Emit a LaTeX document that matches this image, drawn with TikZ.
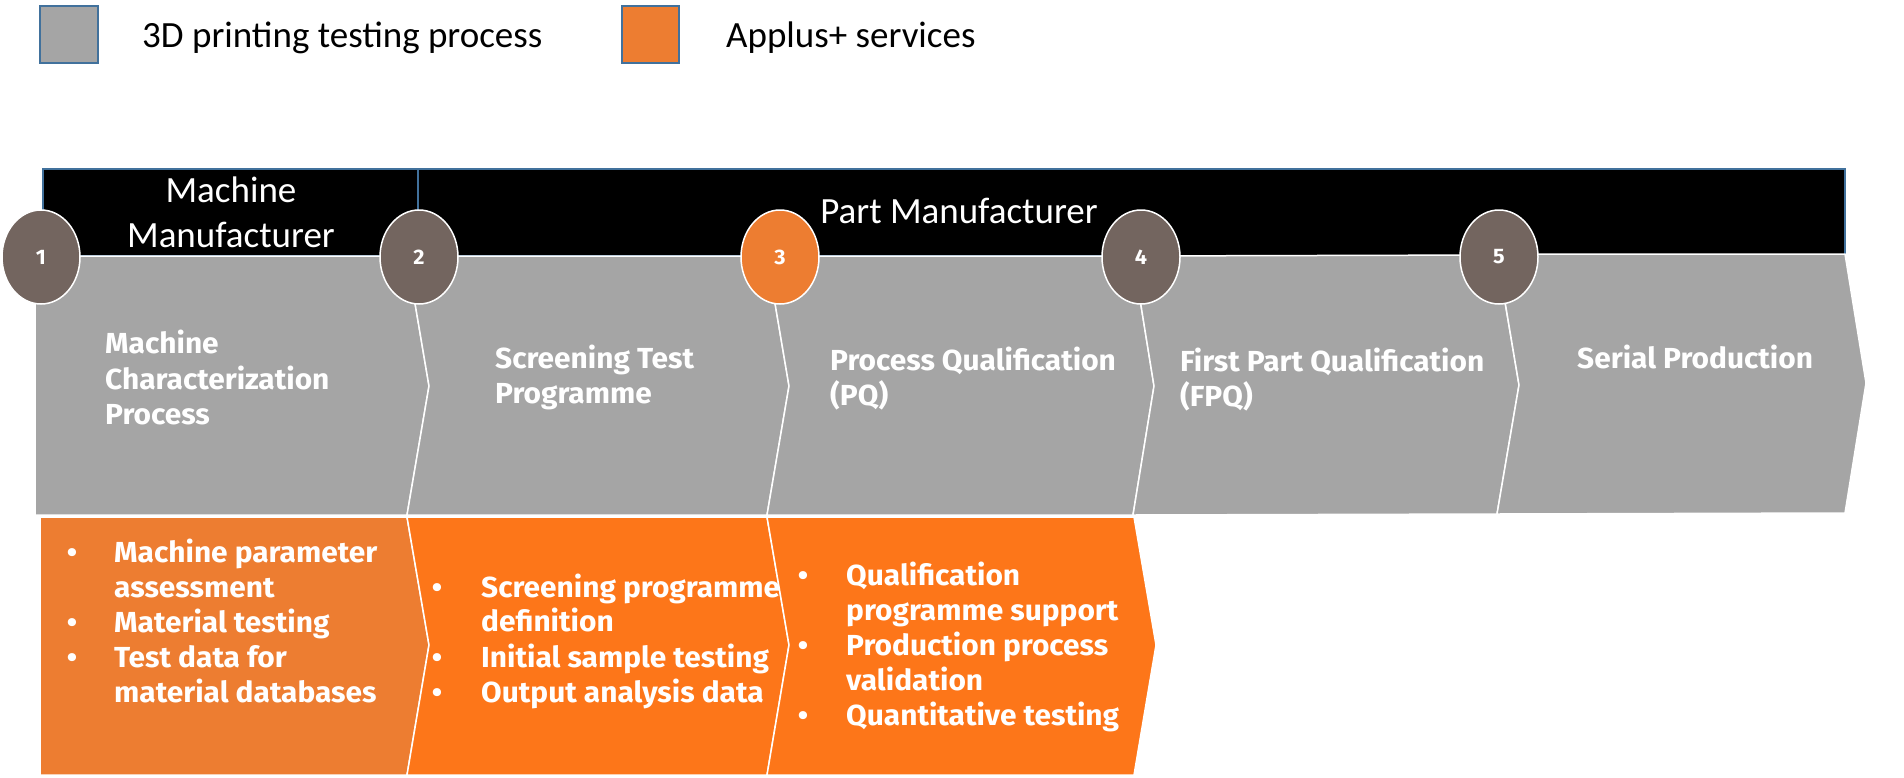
\documentclass[tikz,border=0pt]{standalone}
\usepackage{fontspec}
\setmainfont{Carlito}
\newfontfamily\techfont{Fira Sans}[FakeStretch=1.03]
\usetikzlibrary{shapes.geometric}
\definecolor{grayfill}{HTML}{A5A5A5}
\definecolor{orangeA}{HTML}{ED7D31}
\definecolor{orangeB}{HTML}{FD7619}
\definecolor{circfill}{HTML}{73655F}
\definecolor{bordblue}{HTML}{41719C}
\begin{document}
\begin{tikzpicture}[x=1pt,y=-1pt,
  legbox/.style={fill=#1,draw=bordblue,line width=1.5pt},
  legtxt/.style={font=\fontsize{37}{44}\selectfont,anchor=base west,inner sep=0pt,text=black},
  hdrbox/.style={fill=black,draw=bordblue,line width=1.5pt},
  hdrtxt/.style={font=\fontsize{37}{44}\selectfont,anchor=base,inner sep=0pt,text=white},
  graychev/.style={fill=grayfill,draw=white,line width=1.5pt,line join=miter},
  orchev/.style={fill=#1,draw=white,line width=1.5pt,line join=miter},
  ttl/.style={font=\techfont\bfseries\fontsize{29}{34}\selectfont,anchor=base west,inner sep=0pt,text=white},
  bul/.style={font=\techfont\bfseries\fontsize{29}{34}\selectfont,anchor=base,inner sep=0pt,text=white},
  stepnum/.style={ellipse,fill=#1,draw=white,line width=1.5pt,minimum width=78pt,minimum height=94pt,inner sep=0pt,text=white,font=\techfont\bfseries\fontsize{21}{24}\selectfont}
]
\path[use as bounding box] (0,0) rectangle (1904,777);

% legend
\path[legbox=grayfill] (40,6) rectangle (98,63);
\node[legtxt] (leg1) at (142,47) {3D printing testing process};
\path[legbox=orangeA] (622,6) rectangle (679,63);
\node[legtxt] (leg2) at (726,47) {Applus+ services};

% header boxes
\path[hdrbox] (43,169) rectangle (418,256);
\path[hdrbox] (418,169) rectangle (1845,256);
\node[hdrtxt] (mm1) at (231,202) {Machine};
\node[hdrtxt] (mm2) at (231,247) {Manufacturer};
\node[hdrtxt] (pm) at (959,223) {Part Manufacturer};

% gray chevrons
\path[graychev] (35,256) -- (407,256) -- (429,386) -- (407,515) -- (35,515) -- cycle;
\path[graychev] (407,256) -- (767,256) -- (789,386) -- (767,515) -- (407,515) -- (429,386) -- cycle;
\path[graychev] (767,256) -- (1133,256) -- (1154,386) -- (1133,515) -- (767,515) -- (789,386) -- cycle;
\path[graychev] (1133,256) -- (1497,255) -- (1519,385) -- (1497,514) -- (1133,515) -- (1154,386) -- cycle;
\path[graychev] (1497,254) -- (1845,254) -- (1866,383) -- (1845,513) -- (1497,514) -- (1519,385) -- cycle;

% orange chevrons
\path[orchev=orangeA] (40,517) -- (407,517) -- (429,645) -- (407,775) -- (40,775) -- cycle;
\path[orchev=orangeB] (407,517) -- (767,517) -- (789,645) -- (767,775) -- (407,775) -- (429,645) -- cycle;
\path[orchev=orangeB] (767,517) -- (1134,517) -- (1156,645) -- (1134,775) -- (767,775) -- (789,645) -- cycle;

% step circles
\node[stepnum=circfill] (s1) at (41,257) {1};
\node[stepnum=circfill] (s2) at (419,257) {2};
\node[stepnum=orangeA] (s3) at (780,257) {3};
\node[stepnum=circfill] (s4) at (1141,257) {4};
\node[stepnum=circfill] (s5) at (1499,257) {5};

% gray titles
\node[ttl] (t1a) at (105,353) {Machine};
\node[ttl] (t1b) at (105,389) {Characterization};
\node[ttl] (t1c) at (105,424) {Process};
\node[ttl] (t2a) at (495,368) {Screening Test};
\node[ttl] (t2b) at (495,403) {Programme};
\node[ttl] (t3a) at (830,370) {Process Qualification};
\node[ttl] (t3b) at (830,405) {(PQ)};
\node[ttl] (t4a) at (1180,371) {First Part Qualification};
\node[ttl] (t4b) at (1180,406) {(FPQ)};
\node[ttl] (t5a) at (1577,368) {Serial Production};

% orange 1 bullets
\node[bul] (b1a) at (72,562) {•};
\node[bul] (b1b) at (72,632) {•};
\node[bul] (b1c) at (72,667) {•};
\node[ttl] (o1a) at (114,562) {Machine parameter};
\node[ttl] (o1b) at (114,597) {assessment};
\node[ttl] (o1c) at (114,632) {Material testing};
\node[ttl] (o1d) at (114,667) {Test data for};
\node[ttl] (o1e) at (114,702) {material databases};

% orange 2 bullets
\node[bul] (b2a) at (437,597) {•};
\node[bul] (b2b) at (437,667) {•};
\node[bul] (b2c) at (437,702) {•};
\node[ttl] (o2a) at (481,597) {Screening programme};
\node[ttl] (o2b) at (481,631) {definition};
\node[ttl] (o2c) at (481,667) {Initial sample testing};
\node[ttl] (o2d) at (481,702) {Output analysis data};

% orange 3 bullets
\node[bul] (b3a) at (803,585) {•};
\node[bul] (b3b) at (803,655) {•};
\node[bul] (b3c) at (803,725) {•};
\node[ttl] (o3a) at (846,585) {Qualification};
\node[ttl] (o3b) at (846,620) {programme support};
\node[ttl] (o3c) at (846,655) {Production process};
\node[ttl] (o3d) at (846,690) {validation};
\node[ttl] (o3e) at (846,725) {Quantitative testing};
\end{tikzpicture}
\end{document}
